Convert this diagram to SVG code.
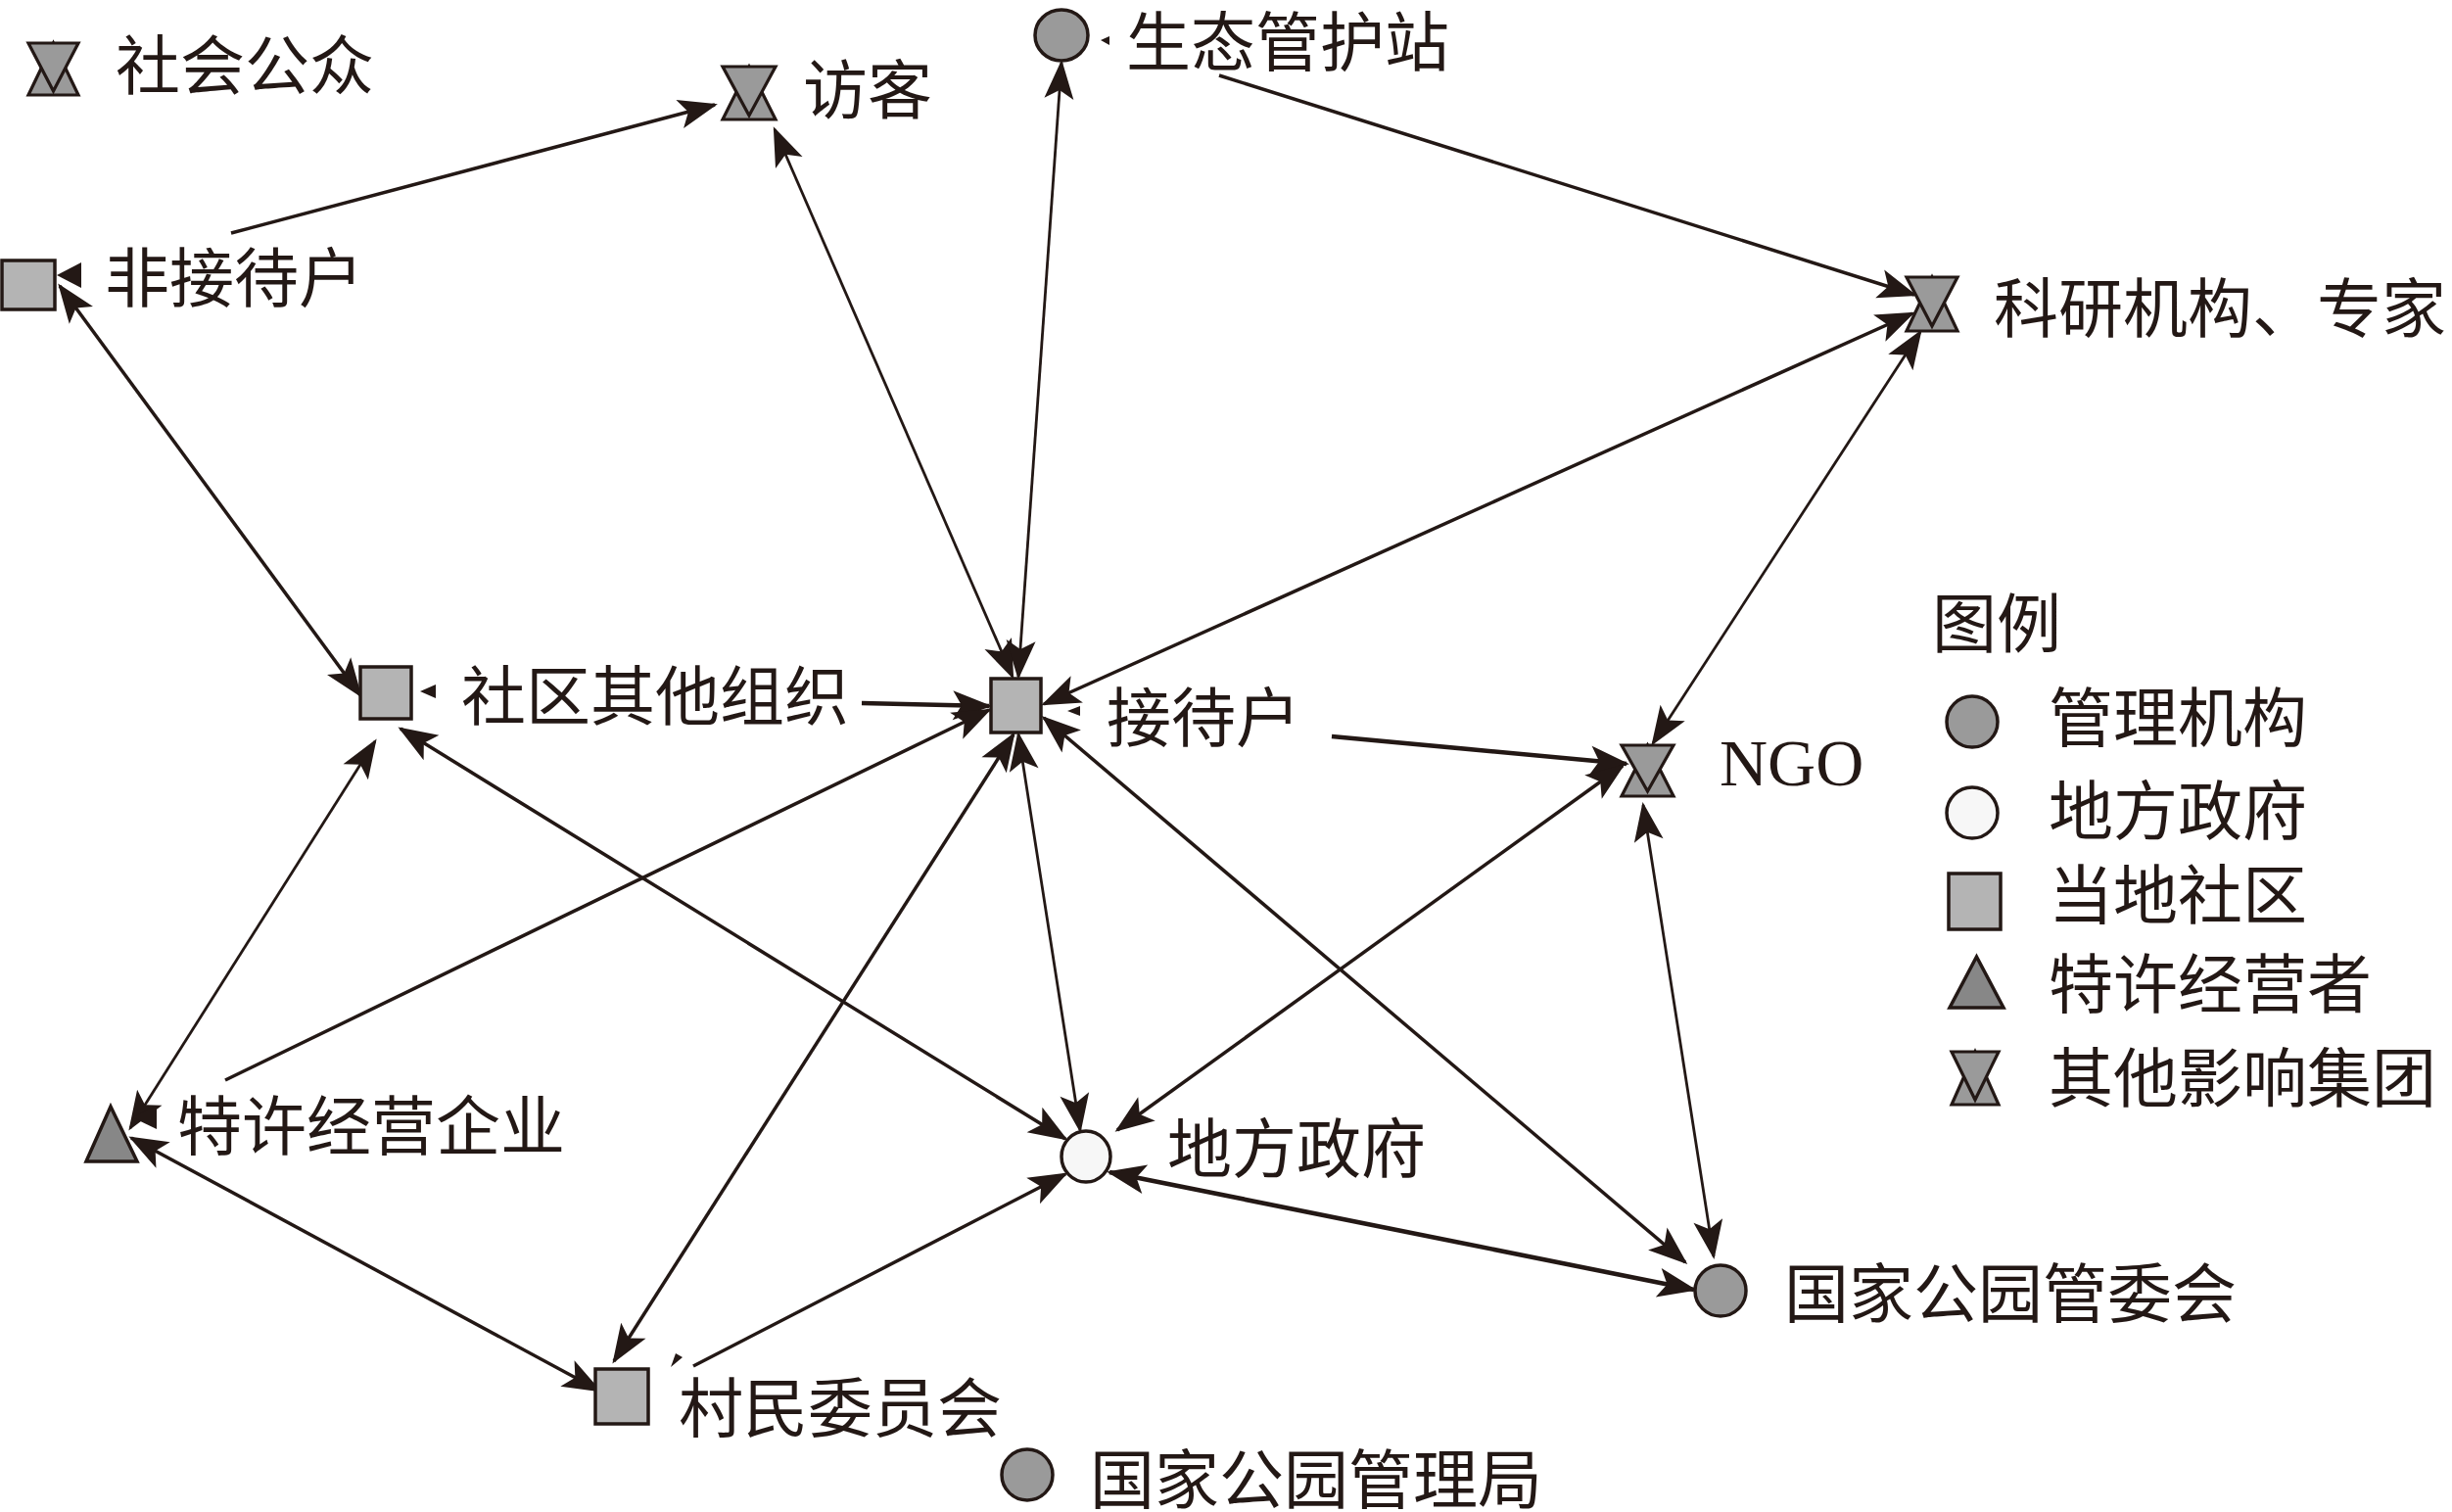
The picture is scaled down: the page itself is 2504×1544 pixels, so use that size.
<svg xmlns="http://www.w3.org/2000/svg" width="2504" height="1544" viewBox="0 0 2504 1544">
<defs>
<marker id="ah" viewBox="-42 -17 48 34" refX="0" refY="0" markerWidth="48" markerHeight="34" markerUnits="userSpaceOnUse" orient="auto-start-reverse">
<path d="M3,0 L-37,-15 L-28,0 L-37,15 Z" fill="#231815"/>
</marker>
</defs>
<style>
.lbl{font-family:"Noto Sans CJK SC","Liberation Serif",serif;font-size:66px;fill:#231815}
.lat{font-family:"Liberation Serif",serif;font-size:68px;fill:#231815}
.e{stroke:#231815;stroke-width:3.5;fill:none}
.t{stroke-width:2.8}
.k{stroke-width:4.6}
.two{marker-start:url(#ah);marker-end:url(#ah)}
.one{marker-end:url(#ah)}
.mg{fill:#9a9a9a;stroke:#231815;stroke-width:3.5}
.gv{fill:#f7f7f7;stroke:#231815;stroke-width:3.5}
.cm{fill:#b4b4b4;stroke:#231815;stroke-width:3.5}
.cs{fill:#878787;stroke:#231815;stroke-width:3.5}
.hg{fill:#9a9a9a;stroke:#231815;stroke-width:3.2;stroke-linejoin:miter}
.tk{fill:#231815}
</style>
<rect width="2504" height="1544" fill="#ffffff"/>

<g id="connectors">
<path class="e one" d="M236,238 L730,107"/>
<path class="e t two" d="M791,132 L1034,691"/>
<path class="e t two" d="M1084,64 L1040,691"/>
<path class="e one" d="M1245,77 L1955,301"/>
<path class="e two" d="M1066,719 L1953,320"/>
<path class="e t two" d="M1961,339 L1688,759"/>
<path class="e two" d="M61,292 L368,710"/>
<path class="e k one" d="M880,718 L1010,721"/>
<path class="e t two" d="M383,757 L133,1152"/>
<path class="e one" d="M230,1103 L1010,725"/>
<path class="e two" d="M134,1162 L612,1420"/>
<path class="e two" d="M409,744 L1088,1163"/>
<path class="e two" d="M1035,750 L627,1390"/>
<path class="e t two" d="M1040,750 L1103,1154"/>
<path class="e k one" d="M1360,752 L1661,780"/>
<path class="e two" d="M1066,733 L1721,1289"/>
<path class="e two" d="M1657,782 L1141,1154"/>
<path class="e t two" d="M1678,822 L1750,1283"/>
<path class="e one" d="M708,1395 L1088,1199"/>
<path class="e k two" d="M1133,1197 L1730,1317"/>
</g>

<g id="n-shehuigongzhong">
<polygon class="hg" points="29,97 80,97 54.5,44"/>
<polygon class="hg" points="29,44 80,44 54.5,93"/>
<text class="lbl" x="118" y="91">社会公众</text>
</g>

<g id="n-fangke">
<polygon class="hg" points="738,122 792,122 765,68"/>
<polygon class="hg" points="738,68 792,68 765,118"/>
<text class="lbl" x="820" y="116">访客</text>
</g>

<g id="n-shengtai">
<ellipse class="mg" cx="1084" cy="36" rx="27" ry="26"/>
<polygon class="tk" points="1124,41 1133,37 1133,46"/>
<text class="lbl" x="1150" y="67">生态管护站</text>
</g>

<g id="n-feijiedaihu">
<rect class="cm" x="2" y="266" width="54" height="50"/>
<polygon class="tk" points="58,281 83,268 83,294"/>
<text class="lbl" x="107" y="308">非接待户</text>
</g>

<g id="n-keyan">
<polygon class="hg" points="1947,338 1999,338 1973,283"/>
<polygon class="hg" points="1947,283 1999,283 1973,333"/>
<text class="lbl" x="2036" y="339">科研机构、专家</text>
</g>

<g id="n-shequ">
<rect class="cm" x="368" y="681" width="52" height="53"/>
<polygon class="tk" points="429,706 445,699 445,713"/>
<text class="lbl" x="471" y="735">社区其他组织</text>
</g>

<g id="n-jiedaihu">
<rect class="cm" x="1012" y="693" width="51" height="55"/>
<polygon class="tk" points="1090,726 1103,721 1103,731"/>
<text class="lbl" x="1130" y="757">接待户</text>
</g>

<g id="n-ngo">
<polygon class="hg" points="1656,813 1709,813 1682.5,761"/>
<polygon class="hg" points="1656,761 1709,761 1682.5,808"/>
<text class="lat" x="1756" y="802">NGO</text>
</g>

<g id="n-texu">
<polygon class="cs" points="113,1130 140,1186 88,1186"/>
<polygon class="tk" points="135,1141 160,1129 160,1153"/>
<text class="lbl" x="181" y="1174">特许经营企业</text>
</g>

<g id="n-difang">
<ellipse class="gv" cx="1109" cy="1181" rx="25" ry="26"/>
<text class="lbl" x="1192" y="1197">地方政府</text>
</g>

<g id="n-guanweihui">
<ellipse class="mg" cx="1757" cy="1318" rx="26" ry="26"/>
<text class="lbl" x="1822" y="1345">国家公园管委会</text>
</g>

<g id="n-cunmin">
<rect class="cm" x="608" y="1398" width="54" height="56"/>
<polygon class="tk" points="685,1396 690,1382 697,1386"/>
<text class="lbl" x="693" y="1462">村民委员会</text>
</g>

<g id="n-guanliju">
<ellipse class="mg" cx="1049" cy="1506" rx="26" ry="26"/>
<text class="lbl" x="1113" y="1535">国家公园管理局</text>
</g>

<g id="legend">
<text class="lbl" x="1973" y="661">图例</text>
<ellipse class="mg" cx="2014" cy="737" rx="26" ry="26"/>
<text class="lbl" x="2092" y="757">管理机构</text>
<ellipse class="gv" cx="2014" cy="830" rx="26" ry="26"/>
<text class="lbl" x="2092" y="852">地方政府</text>
<rect class="cm" x="1990" y="892" width="53" height="57"/>
<text class="lbl" x="2092" y="938">当地社区</text>
<polygon class="cs" points="2018.5,977 2046,1029 1991,1029"/>
<text class="lbl" x="2092" y="1029">特许经营者</text>
<polygon class="hg" points="1993,1128 2041,1128 2017,1074"/>
<polygon class="hg" points="1993,1074 2041,1074 2017,1123"/>
<text class="lbl" x="2092" y="1125">其他影响集团</text>
</g>
</svg>
